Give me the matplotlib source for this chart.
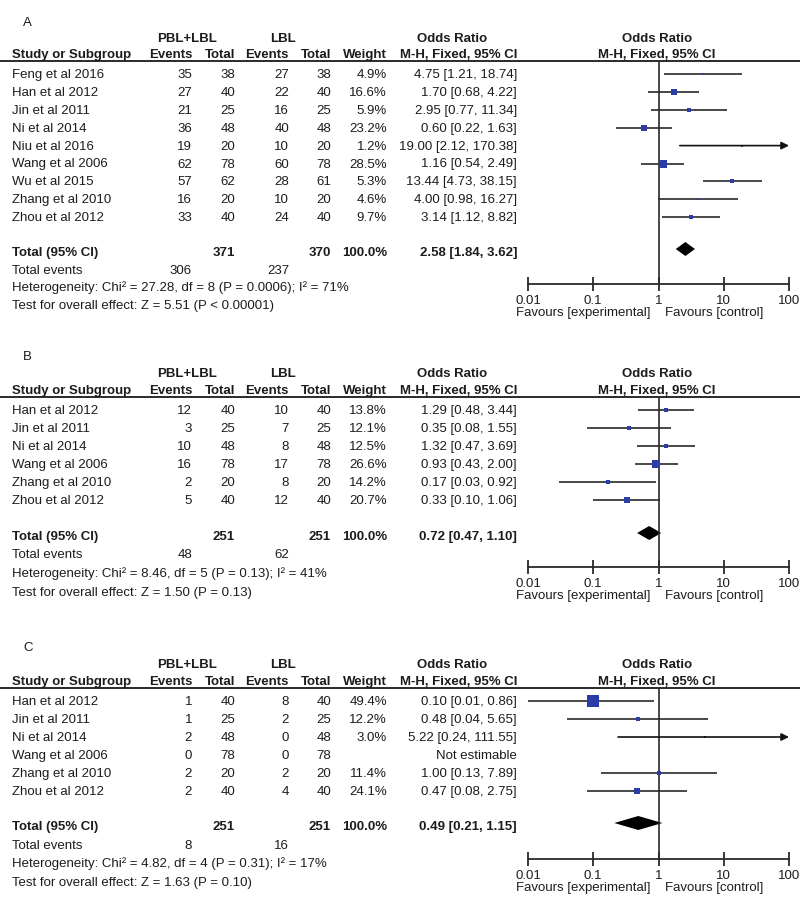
import matplotlib
matplotlib.use("Agg")
import matplotlib.pyplot as plt
import numpy as np

plt.rcParams['font.family'] = ['Liberation Sans', 'DejaVu Sans']

# ---- panel A data
studies_a = ["Feng et al 2016", "Han et al 2012", "Jin et al 2011", "Ni et al 2014", "Niu et al 2016",
             "Wang et al 2006", "Wu et al 2015", "Zhang et al 2010", "Zhou et al 2012"]
ev1_a = [35, 27, 21, 36, 19, 62, 57, 16, 33]
tot1_a = [38, 40, 25, 48, 20, 78, 62, 20, 40]
ev2_a = [27, 22, 16, 40, 10, 60, 28, 10, 24]
tot2_a = [38, 40, 25, 48, 20, 78, 61, 20, 40]
wt_a = [4.9, 16.6, 5.9, 23.2, 1.2, 28.5, 5.3, 4.6, 9.7]
or_a = [4.75, 1.70, 2.95, 0.60, 19.00, 1.16, 13.44, 4.00, 3.14]
lo_a = [1.21, 0.68, 0.77, 0.22, 2.12, 0.54, 4.73, 0.98, 1.12]
hi_a = [18.74, 4.22, 11.34, 1.63, 170.38, 2.49, 38.15, 16.27, 8.82]
total_a = [371, 370, 2.58, 1.84, 3.62]
events_a = [306, 237]
het_a = "Heterogeneity: Chi² = 27.28, df = 8 (P = 0.0006); I² = 71%"
test_a = "Test for overall effect: Z = 5.51 (P < 0.00001)"

# ---- panel B data
studies_b = ["Han et al 2012", "Jin et al 2011", "Ni et al 2014", "Wang et al 2006",
             "Zhang et al 2010", "Zhou et al 2012"]
ev1_b = [12, 3, 10, 16, 2, 5]
tot1_b = [40, 25, 48, 78, 20, 40]
ev2_b = [10, 7, 8, 17, 8, 12]
tot2_b = [40, 25, 48, 78, 20, 40]
wt_b = [13.8, 12.1, 12.5, 26.6, 14.2, 20.7]
or_b = [1.29, 0.35, 1.32, 0.93, 0.17, 0.33]
lo_b = [0.48, 0.08, 0.47, 0.43, 0.03, 0.10]
hi_b = [3.44, 1.55, 3.69, 2.00, 0.92, 1.06]
total_b = [251, 251, 0.72, 0.47, 1.10]
events_b = [48, 62]
het_b = "Heterogeneity: Chi² = 8.46, df = 5 (P = 0.13); I² = 41%"
test_b = "Test for overall effect: Z = 1.50 (P = 0.13)"

# ---- panel C data (Wang not estimable)
studies_c = ["Han et al 2012", "Jin et al 2011", "Ni et al 2014", "Wang et al 2006",
             "Zhang et al 2010", "Zhou et al 2012"]
ev1_c = [1, 1, 2, 0, 2, 2]
tot1_c = [40, 25, 48, 78, 20, 40]
ev2_c = [8, 2, 0, 0, 2, 4]
tot2_c = [40, 25, 48, 78, 20, 40]
wt_c = [49.4, 12.2, 3.0, None, 11.4, 24.1]
or_c = [0.10, 0.48, 5.22, None, 1.00, 0.47]
lo_c = [0.01, 0.04, 0.24, None, 0.13, 0.08]
hi_c = [0.86, 5.65, 111.55, None, 7.89, 2.75]
total_c = [251, 251, 0.49, 0.21, 1.15]
events_c = [8, 16]
het_c = "Heterogeneity: Chi² = 4.82, df = 4 (P = 0.31); I² = 17%"
test_c = "Test for overall effect: Z = 1.63 (P = 0.10)"

W, H = 800, 904
fig = plt.figure(figsize=(8, 9.04), dpi=100)
bg = fig.add_axes([0, 0, 1, 1])
bg.set_xlim(0, W)
bg.set_ylim(H, 0)
bg.axis('off')

TXT = '#1c1c1c'
LN = '#2a2a2a'
BLUE = '#2c3ca6'
FS = 9.5

def t(x, y, s, ha='left', bold=False):
    bg.text(x, y, s, ha=ha, va='center', fontsize=FS, color=TXT,
            fontweight='bold' if bold else 'normal')

def panel(label, lay, studies, ev1, tot1, ev2, tot2, wt, orr, lo, hi, total, events, het, test):
    n = len(studies)
    ys = [lay['row0'] + i * lay['dy'] for i in range(n)]
    t(23, lay['label'], label)
    t(187, lay['hdr1'], "PBL+LBL", ha='center', bold=True)
    t(283, lay['hdr1'], "LBL", ha='center', bold=True)
    t(452, lay['hdr1'], "Odds Ratio", ha='center', bold=True)
    t(657, lay['hdr1'], "Odds Ratio", ha='center', bold=True)
    t(12, lay['hdr2'], "Study or Subgroup", bold=True)
    t(192, lay['hdr2'], "Events", ha='right', bold=True)
    t(235, lay['hdr2'], "Total", ha='right', bold=True)
    t(289, lay['hdr2'], "Events", ha='right', bold=True)
    t(331, lay['hdr2'], "Total", ha='right', bold=True)
    t(387, lay['hdr2'], "Weight", ha='right', bold=True)
    t(517, lay['hdr2'], "M-H, Fixed, 95% CI", ha='right', bold=True)
    t(657, lay['hdr2'], "M-H, Fixed, 95% CI", ha='center', bold=True)
    bg.plot([0, W], [lay['line'], lay['line']], color=LN, lw=1.4)

    for i in range(n):
        y = ys[i]
        t(12, y, studies[i])
        t(192, y, str(ev1[i]), ha='right')
        t(235, y, str(tot1[i]), ha='right')
        t(289, y, str(ev2[i]), ha='right')
        t(331, y, str(tot2[i]), ha='right')
        if wt[i] is not None:
            t(387, y, f"{wt[i]:.1f}%", ha='right')
            t(517, y, f"{orr[i]:.2f} [{lo[i]:.2f}, {hi[i]:.2f}]", ha='right')
        else:
            t(517, y, "Not estimable", ha='right')

    t(12, lay['total'], "Total (95% CI)", bold=True)
    t(235, lay['total'], str(total[0]), ha='right', bold=True)
    t(331, lay['total'], str(total[1]), ha='right', bold=True)
    t(387, lay['total'], "100.0%", ha='right', bold=True)
    t(517, lay['total'], f"{total[2]:.2f} [{total[3]:.2f}, {total[4]:.2f}]", ha='right', bold=True)
    t(12, lay['events'], "Total events")
    t(192, lay['events'], str(events[0]), ha='right')
    t(289, lay['events'], str(events[1]), ha='right')
    t(12, lay['het'], het)
    t(12, lay['test'], test)

    # forest axes, y in figure pixels
    x0, x1 = 528, 789
    ax = fig.add_axes([x0 / W, 1 - lay['axis'] / H, (x1 - x0) / W, (lay['axis'] - lay['line']) / H])
    ax.set_xscale('log')
    ax.set_xlim(0.01, 100)
    ax.set_ylim(lay['axis'], lay['line'])
    ax.patch.set_alpha(0)
    for s in ['top', 'left', 'right']:
        ax.spines[s].set_visible(False)
    ax.spines['bottom'].set_color(LN)
    ax.spines['bottom'].set_linewidth(1.3)
    ax.set_yticks([])
    ax.set_xticks([0.01, 0.1, 1, 10, 100])
    ax.set_xticklabels(["0.01", "0.1", "1", "10", "100"])
    ax.minorticks_off()
    ax.tick_params(axis='x', direction='inout', length=10, width=1.3, color=LN,
                   labelsize=FS, labelcolor=TXT, pad=2)
    ax.axvline(1, color=LN, lw=1.2)

    for i in range(n):
        if wt[i] is None:
            continue
        y = ys[i]
        if hi[i] > 100:
            ax.annotate("", xy=(100, y), xytext=(lo[i], y),
                        arrowprops=dict(arrowstyle='-|>', color='#111111', lw=1.2,
                                        mutation_scale=11, shrinkA=0, shrinkB=0))
        else:
            ax.plot([lo[i], hi[i]], [y, y], color=LN, lw=1.2, solid_capstyle='butt')
        side = 2.0 + 0.2 * wt[i]
        ax.plot(orr[i], y, marker='s', ms=side * 0.72, color=BLUE, mec=BLUE, mew=0)

    yc = lay['total'] - 3
    hh = 7
    ax.fill([total[3], total[2], total[4], total[2]], [yc, yc - hh, yc, yc + hh],
            color='black', lw=0)

    bg.text(650, lay['axis'] + 28, "Favours [experimental]", ha='right', va='center',
            fontsize=FS, color=TXT)
    bg.text(665, lay['axis'] + 28, "Favours [control]", ha='left', va='center',
            fontsize=FS, color=TXT)


lay_a = dict(label=23, hdr1=39, hdr2=55, line=62, row0=75, dy=17.9, total=253,
             events=271, het=288, test=306, axis=285)
lay_b = dict(label=357, hdr1=374, hdr2=391, line=398, row0=411, dy=18.1, total=537,
             events=555, het=574, test=593, axis=568)
lay_c = dict(label=648, hdr1=665, hdr2=682, line=689, row0=702, dy=18.0, total=827,
             events=846, het=864, test=883, axis=860)

panel("A", lay_a, studies_a, ev1_a, tot1_a, ev2_a, tot2_a, wt_a, or_a, lo_a, hi_a,
      total_a, events_a, het_a, test_a)
panel("B", lay_b, studies_b, ev1_b, tot1_b, ev2_b, tot2_b, wt_b, or_b, lo_b, hi_b,
      total_b, events_b, het_b, test_b)
panel("C", lay_c, studies_c, ev1_c, tot1_c, ev2_c, tot2_c, wt_c, or_c, lo_c, hi_c,
      total_c, events_c, het_c, test_c)

fig.savefig("out.png", dpi=100, facecolor='white')
